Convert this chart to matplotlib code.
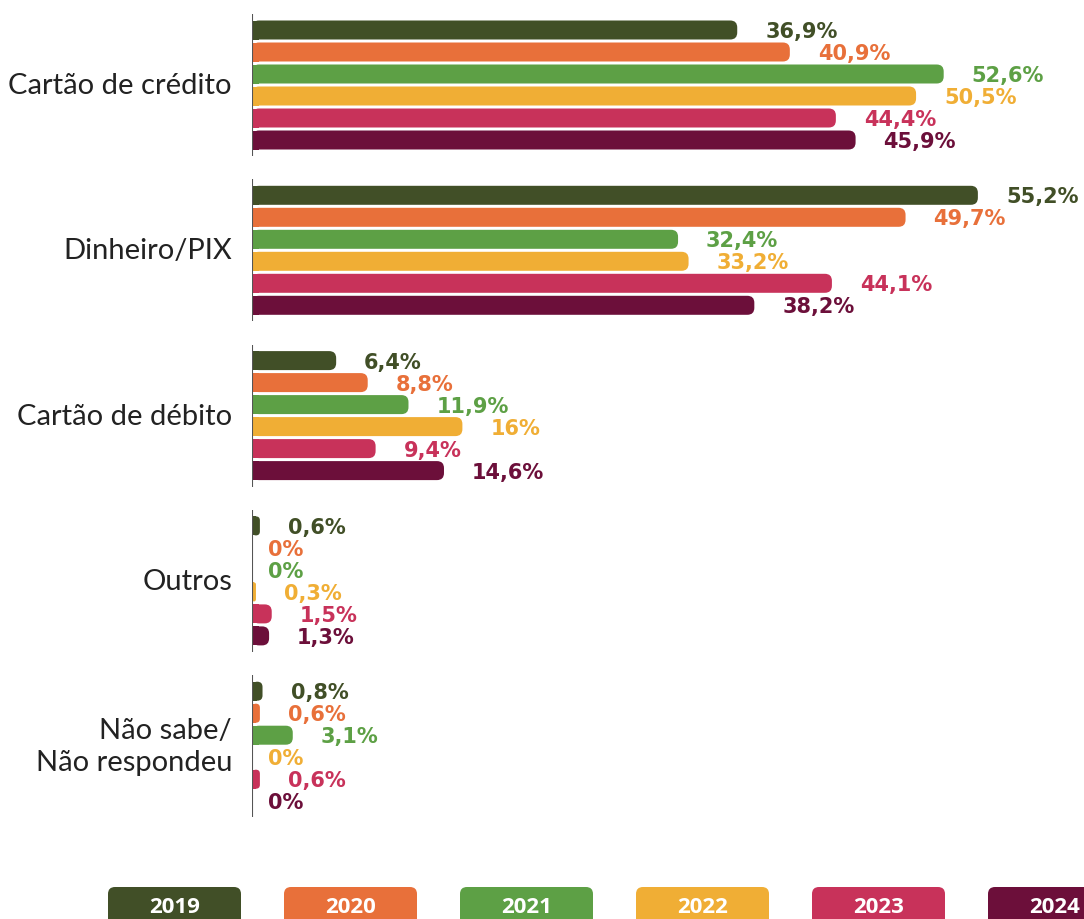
import matplotlib
matplotlib.use("Agg")
import matplotlib.pyplot as plt
from matplotlib.patches import FancyBboxPatch, Rectangle

# data
categories = ["Cartão de crédito", "Dinheiro/PIX", "Cartão de débito", "Outros",
              "Não sabe/\nNão respondeu"]
years = ["2019", "2020", "2021", "2022", "2023", "2024"]
v2019 = [36.9, 55.2, 6.4, 0.6, 0.8]
v2020 = [40.9, 49.7, 8.8, 0, 0.6]
v2021 = [52.6, 32.4, 11.9, 0, 3.1]
v2022 = [50.5, 33.2, 16, 0.3, 0]
v2023 = [44.4, 44.1, 9.4, 1.5, 0.6]
v2024 = [45.9, 38.2, 14.6, 1.3, 0]
series = [v2019, v2020, v2021, v2022, v2023, v2024]
colors = ["#414F27", "#E8703A", "#5DA045", "#F0AE35", "#C8325A", "#6C0F3A"]

W, H = 1084, 920
PX = 13.15          # pixels per percent
X0 = 252            # pixel position of the axis line

fig = plt.figure(figsize=(W / 100, H / 100), dpi=100)
ax = fig.add_axes([X0 / W, 0, (W - X0) / W, 1])
ax.set_xlim(0, (W - X0) / PX)
ax.set_ylim(H, 0)
ax.axis("off")

g0, gstep = 86, 165.3
bstep, bh = 22, 19
rpx = 7

for i, cat in enumerate(categories):
    gc = g0 + i * gstep
    ax.vlines(0, gc - 3 * bstep - 5, gc + 3 * bstep + 5, color="#555555", lw=1.5, zorder=5)
    ax.text(-20 / PX, gc, cat, ha="right", va="center", fontsize=21,
            family="Lato", color="#222222", linespacing=1.3)
    for j, vals in enumerate(series):
        v = vals[i]
        yc = gc + (j - 2.5) * bstep
        if v > 0:
            r = min(rpx / PX, v / 2)
            p = FancyBboxPatch((0, yc - bh / 2), v, bh,
                               boxstyle=f"round,pad=0,rounding_size={r}",
                               mutation_aspect=PX, fc=colors[j], ec="none", zorder=3)
            ax.add_patch(p)
            # square off the left end
            ax.add_patch(Rectangle((0, yc - bh / 2), min(v, r), bh,
                                   fc=colors[j], ec="none", zorder=3))
        lab = f"{v:g}".replace(".", ",") + "%"
        xt = v + 28 / PX if v > 0 else 16 / PX
        ax.text(xt, yc + 1, lab, ha="left", va="center", fontsize=15,
                family="DejaVu Sans", weight="bold", color=colors[j])

# legend boxes along the bottom
lg = fig.add_axes([0, 0, 1, 1])
lg.set_xlim(0, W)
lg.set_ylim(H, 0)
lg.axis("off")
for k, yr in enumerate(years):
    x = 108 + k * 176
    lg.add_patch(FancyBboxPatch((x, 888), 133, 50,
                                boxstyle="round,pad=0,rounding_size=7",
                                fc=colors[k], ec="none"))
    lg.text(x + 66.5, 908, yr, ha="center", va="center", fontsize=16,
            family="Open Sans", weight="bold", color="white")

fig.savefig("out.png", dpi=100)
